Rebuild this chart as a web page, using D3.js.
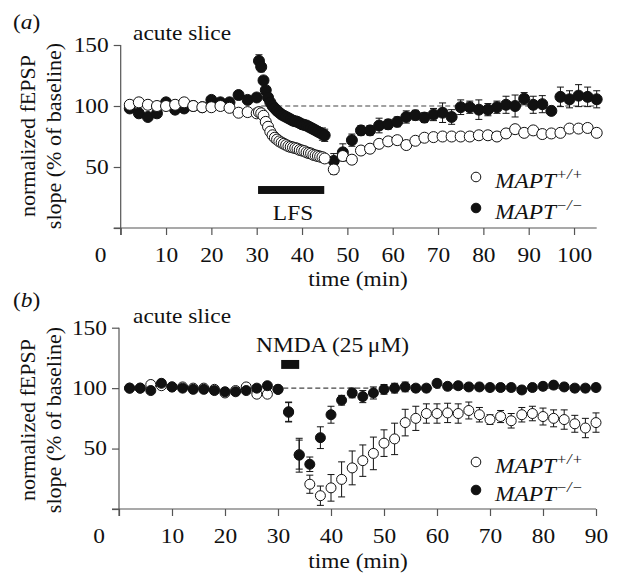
<!DOCTYPE html>
<html><head><meta charset="utf-8">
<script src="https://cdn.jsdelivr.net/npm/d3@7"></script>
<style>html,body{margin:0;padding:0;background:#fff}</style>
</head><body>
<script>
// ---------- DATA ----------
// Panel (a): LFS experiment
const timeA = [2,4,6,8,10,12,14,16,18,20,22,24,26,28,30,
  30.5,31,31.5,32,32.5,33,33.5,34,34.5,35,35.5,36,36.5,37,37.5,38,38.5,39,39.5,40,40.5,41,41.5,42,42.5,43,43.5,44,44.5,45,
  47,49,51,53,55,57,59,61,63,65,67,69,71,73,75,77,79,81,83,85,87,89,91,93,95,97,99,101,103,105];
const wtA = [101,103,101,100,100,101,103,100,99,99,100,98.5,94.5,95,94,
  95,94,92,87,83,79,76,74,72.5,71,70,69,68,67,66.5,66,65.5,65,64,63.5,63,62,61.5,61,60,59.5,59,58.5,58,57,
  48,59,56,63.5,65,69,71,72,68,71.5,74,74.5,75,75,75,75,76,76,75,77.5,81,78,80,77,77.5,78,81.5,81.5,82,78];
const wtAErr = [2,2,2,2,2,2,2,2,2,2,2,2,2,2,2,
  3,3,3,3,3,3,3,3,3,3,3,3,3,3,3,3,3,3,3,3,3,3,3,3,3,3,3,3,3,3,
  4,3,3,3,3,3,3,3,3,3,3,3,3,3,3,3,3,3,3,3,3,3,3,3,3,3,3,3,3,3];
const koA = [98,94,91,94,103,97,98,100,99,105,103,103,109,105,107,
  137,132,121,113,107,103,100,98,96,94.5,93,92,91,90,89,88,87.5,87,86,85,84.5,84,83,82,81,80,79,78,77,76,
  55,62,72,80,80,84,85,87,91,92.5,90.5,93,94.5,91,99,99,97,97,99,101,100,106,101,101.5,96,107.5,105.5,108.5,107.5,105.5];
const koAErr = [2,2,2,2,2,2,2,2,2,2,2,2,3,3,3,
  5,4,3,3,3,3,3,3,3,3,3,3,3,3,3,3,3,3,3,3,3,3,3,3,3,3,3,3,5,5,
  6,7,5,4,4,6,4,4,5,4,4,5,8,6,6,5,8,5,5,7,9,5,7,7,3,8,7,9,8,7];
const ticksXA = [0,10,20,30,40,50,60,70,80,90,100];
const ticksY = [0,50,100,150];
const lfsBar = [30.3, 44.9];   // minutes
const lfsBarLevel = [34.4, 27.9];

// Panel (b): NMDA experiment
const timeB = [2,4,6,8,10,12,14,16,18,20,22,24,26,28,30,
  32,34,36,38,40,42,44,46,48,50,52,54,56,58,60,62,64,66,68,70,72,74,76,78,80,82,84,86,88,90];
const wtB = [100,100,103,102,101,101,100,100,99,96,98,101,95,95,99,
  80,45,20.5,11,17.5,24.5,34,40,46,54.5,58,71.5,75,79,79,79.5,79,81.5,78,74,76.5,73,78,79,76.5,75,74,70.5,67,71.5];
const wtBErr = [1.5,1.5,1.5,1.5,1.5,1.5,1.5,1.5,1.5,1.5,1.5,1.5,1.5,1.5,1.5,
  8,12,7.5,8,11,14.5,14,13,13.5,11,13,11,10,8,8,8,8,7,6,4,5,6,6,6,7,7,8,7,8,8];
const koB = [100,100,98,104,101,100,99,99,98,97,97,98,100,102,99,
  80.5,44.5,37,59,78,90,96,93,96,99,100,101,100,100,104,101.5,102,101,101,100.5,100.5,100.5,98.5,100.5,101.5,102.5,101,100,100,100.5];
const koBErr = [1.5,1.5,1.5,1.5,1.5,1.5,1.5,1.5,1.5,1.5,1.5,1.5,1.5,1.5,1.5,
  8,14,6,9,7,4,4,5,5,4,4,4,3,3,3,3,3,3,3,3,3,3,3,3,3,3,3,3,3,3];
const ticksXB = [0,10,20,30,40,50,60,70,80,90];
const nmdaBar = [30.6, 34];
const nmdaBarLevel = [123.3, 115.9];

const legendLabels = [["MAPT","+/+"],["MAPT","\u2212/\u2212"]];

// ---------- DRAWING ----------
const W = 622, H = 575, SX = 1.17;
const FONT = "'Liberation Serif','Times New Roman',serif";
const svg = d3.select("body").append("svg").attr("width", W).attr("height", H)
  .style("font-family", FONT);
svg.append("rect").attr("width", W).attr("height", H).attr("fill", "#fff");

function stext(p, x, y, str, o = {}) {
  return p.append("text")
    .attr("transform", `translate(${x},${y}) scale(${o.sx || SX},1)`)
    .attr("font-size", o.size || 20)
    .attr("text-anchor", o.anchor || "start")
    .attr("font-style", o.italic ? "italic" : null)
    .attr("fill", "#111")
    .text(str);
}

function panel(cfg) {
  const g = svg.append("g");
  const {x, y} = cfg;
  // axes
  const ax = g.append("g").attr("transform", `translate(0,${y(0)})`)
    .call(d3.axisBottom(x).tickValues(cfg.ticksX).tickSize(7).tickPadding(cfg.padX)
      .tickFormat(d => d === 0 ? "" : d));
  const ay = g.append("g").attr("transform", `translate(${x(0)},0)`)
    .call(d3.axisLeft(y).tickValues(ticksY).tickSize(7).tickPadding(5)
      .tickFormat(d => d === 0 ? "" : d));
  [ax, ay].forEach(a => {
    a.selectAll("path,line").attr("stroke", "#555").attr("stroke-width", 1.2);
    a.select("path.domain").attr("d", null);
    a.selectAll("text").attr("font-size", 20).attr("font-family", FONT).attr("fill", "#111");
  });
  // custom domain lines extending to include tick at origin
  ax.append("line").attr("x1", x(0) - 7).attr("x2", x(cfg.xmax)).attr("y1", 0).attr("y2", 0)
    .attr("stroke", "#555").attr("stroke-width", 1.2);
  ay.append("line").attr("x1", 0).attr("x2", 0).attr("y1", y(150)).attr("y2", y(0) + 7)
    .attr("stroke", "#555").attr("stroke-width", 1.2);
  ax.selectAll("text").attr("transform", `scale(${SX},1)`);
  ay.selectAll("text").attr("transform", `scale(${SX},1)`).attr("x", -12 / SX);
  // shared origin label
  stext(g, x(0) - 20, y(0) + cfg.labY, "0", {anchor: "middle"});

  // dashed 100% line
  g.append("line").attr("x1", x(cfg.dashFrom)).attr("x2", x(cfg.xmax))
    .attr("y1", y(100)).attr("y2", y(100))
    .attr("stroke", "#444").attr("stroke-width", 1.1).attr("stroke-dasharray", "5,3");

  // series
  function series(vals, errs, filled, r) {
    const data = cfg.time.map((t, i) => ({t, v: vals[i], e: errs[i]}));
    const eb = g.append("g").attr("stroke", "#111").attr("stroke-width", 1);
    data.forEach(d => {
      eb.append("line").attr("x1", x(d.t)).attr("x2", x(d.t)).attr("y1", y(d.v - d.e)).attr("y2", y(d.v + d.e));
      [d.v - d.e, d.v + d.e].forEach(v =>
        eb.append("line").attr("x1", x(d.t) - 3.5).attr("x2", x(d.t) + 3.5).attr("y1", y(v)).attr("y2", y(v)));
    });
    g.append("g").selectAll("circle").data(data).join("circle")
      .attr("cx", d => x(d.t)).attr("cy", d => y(d.v)).attr("r", r)
      .attr("fill", filled ? "#111" : "#fff").attr("stroke", "#111").attr("stroke-width", 1);
  }
  cfg.order.forEach(s => series(s.vals, s.errs, s.filled, cfg.r));

  // stimulus bar
  g.append("rect").attr("x", x(cfg.bar[0])).attr("width", x(cfg.bar[1]) - x(cfg.bar[0]))
    .attr("y", y(cfg.barLevel[0])).attr("height", y(cfg.barLevel[1]) - y(cfg.barLevel[0]))
    .attr("fill", "#111");
  stext(g, cfg.barLabel.x, cfg.barLabel.y, cfg.barLabel.text, {anchor: cfg.barLabel.anchor});

  // labels
  stext(g, 13, cfg.tagY, cfg.tag[0]).call(t => {
    t.text(null);
    t.append("tspan").text("(");
    t.append("tspan").attr("font-style", "italic").text(cfg.tag[1]);
    t.append("tspan").text(")");
  });
  stext(g, 133, cfg.acuteY, "acute slice");
  stext(g, 358, y(0) + cfg.timeY, "time (min)", {anchor: "middle"});

  // y label
  const cy = cfg.ylabCenter;
  [["normalized fEPSP", 35], ["slope (% of baseline)", 61]].forEach(([s, bx]) => {
    g.append("text").attr("transform", `translate(${bx},${cy}) rotate(-90)`)
      .attr("text-anchor", "middle").attr("font-size", 22).attr("fill", "#111").text(s);
  });

  // legend
  legendLabels.forEach((lab, i) => {
    const ly = cfg.legY[i];
    g.append("circle").attr("cx", 476).attr("cy", ly).attr("r", 4.8)
      .attr("fill", i === 0 ? "#fff" : "#111").attr("stroke", "#111").attr("stroke-width", 1);
    const t = stext(g, 495, ly + 11, "", {italic: true});
    t.append("tspan").text(lab[0]);
    t.append("tspan").attr("font-size", 14).attr("dy", -9).text(lab[1]);
  });
}

const xA = d3.scaleLinear().domain([0, 105]).range([120.7, 596.7]);
const yA = d3.scaleLinear().domain([0, 150]).range([228, 45]);
panel({
  x: xA, y: yA, ticksX: ticksXA, xmax: 105, padX: 13, labY: 34, timeY: 58, dashFrom: 31,
  time: timeA, r: 5.5,
  order: [{vals: koA, errs: koAErr, filled: true}, {vals: wtA, errs: wtAErr, filled: false}],
  bar: lfsBar, barLevel: lfsBarLevel,
  barLabel: {x: 293, y: 220, text: "LFS", anchor: "middle"},
  tag: ["", "a"], tagY: 29, acuteY: 40, ylabCenter: 136, legY: [177, 208]
});

const xB = d3.scaleLinear().domain([0, 90]).range([119, 596]);
const yB = d3.scaleLinear().domain([0, 150]).range([509, 327.7]);
panel({
  x: xB, y: yB, ticksX: ticksXB, xmax: 90, padX: 13, labY: 34, timeY: 59, dashFrom: 31,
  time: timeB, r: 5,
  order: [{vals: wtB, errs: wtBErr, filled: false}, {vals: koB, errs: koBErr, filled: true}],
  bar: nmdaBar, barLevel: nmdaBarLevel,
  barLabel: {x: 256, y: 352, text: "NMDA (25\u2009\u03bcM)", anchor: "start"},
  tag: ["", "b"], tagY: 307, acuteY: 323, ylabCenter: 420, legY: [462, 490]
});
</script>
</body></html>
